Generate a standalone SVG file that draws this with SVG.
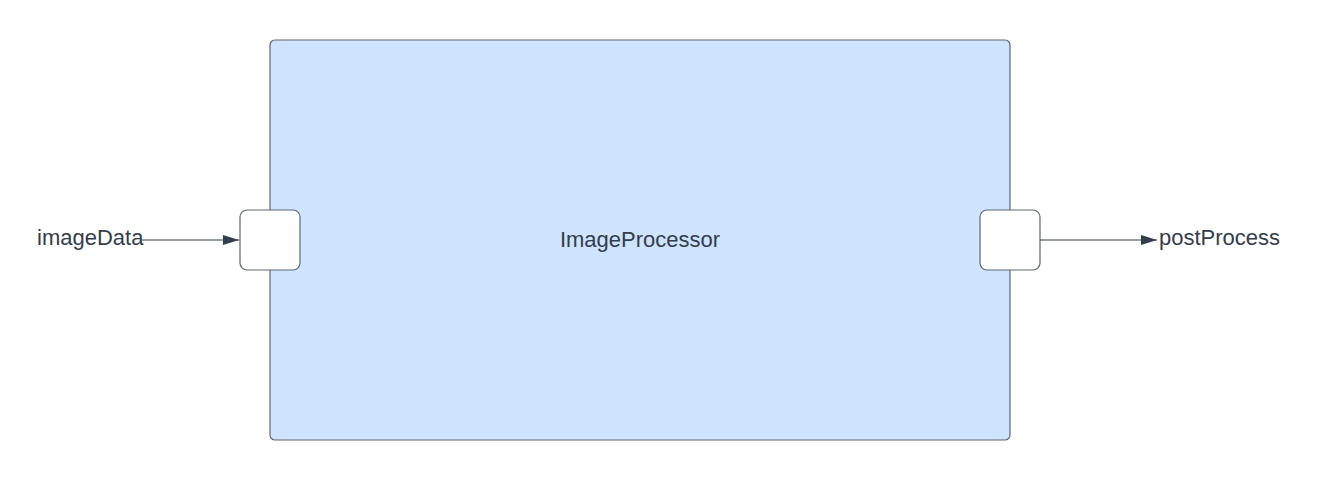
<svg xmlns="http://www.w3.org/2000/svg" width="1320" height="480" viewBox="0 0 1320 480">
<style>
text{font-family:"Liberation Sans",Arial,sans-serif;font-size:22px;fill:#333d4b}
.box{fill:#cfe4ff;stroke:#5e6675;stroke-width:1.2}
.port{fill:#ffffff;stroke:#5e6675;stroke-width:1.2}
.edge{stroke:#333d4b;stroke-width:1.2;fill:none}
</style>
<defs>
<marker id="ah" markerWidth="16" markerHeight="12" refX="16" refY="6" orient="auto" markerUnits="userSpaceOnUse">
<path d="M0,1 L16,6 L0,11 Z" fill="#333d4b"/>
</marker>
</defs>
<g id="ImageProcessor">
<rect class="box" x="270" y="40" width="740" height="400" rx="5"/>
<text x="640" y="247" text-anchor="middle">ImageProcessor</text>
</g>
<g id="inPort"><rect class="port" x="240" y="210" width="60" height="60" rx="7"/></g>
<g id="outPort"><rect class="port" x="980" y="210" width="60" height="60" rx="7"/></g>
<g id="imageData"><text x="37" y="245">imageData</text></g>
<g id="postProcess"><text x="1159" y="245">postProcess</text></g>
<g id="connectors">
<line class="edge" x1="142" y1="240" x2="239" y2="240" marker-end="url(#ah)"/>
<line class="edge" x1="1040" y1="240" x2="1157" y2="240" marker-end="url(#ah)"/>
</g>
</svg>
